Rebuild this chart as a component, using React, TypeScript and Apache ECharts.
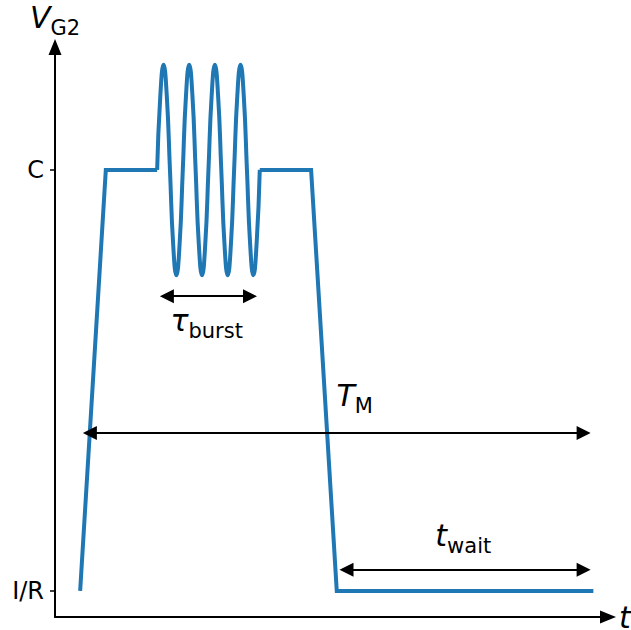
import React, { useEffect, useRef } from "react";
import * as echarts from "echarts";

// Piecewise envelope of the gate pulse (t in arbitrary units, V normalised: I/R = 0, C = 1)
const envelopeT: (number | null)[] = [0, 1, 3, null, 7, 9, 10, 20];
const envelopeV: (number | null)[] = [0, 1, 1, null, 1, 1, 0, 0];

// Burst section (4 oscillations between t = 3 and t = 7)
const burstT = [
  3, 3.125, 3.25, 3.375, 3.5, 3.625, 3.75, 3.875,
  4, 4.125, 4.25, 4.375, 4.5, 4.625, 4.75, 4.875,
  5, 5.125, 5.25, 5.375, 5.5, 5.625, 5.75, 5.875,
  6, 6.125, 6.25, 6.375, 6.5, 6.625, 6.75, 6.875,
  7,
];
const burstV = [
  1, 1.177, 1.25, 1.177, 1, 0.823, 0.75, 0.823,
  1, 1.177, 1.25, 1.177, 1, 0.823, 0.75, 0.823,
  1, 1.177, 1.25, 1.177, 1, 0.823, 0.75, 0.823,
  1, 1.177, 1.25, 1.177, 1, 0.823, 0.75, 0.823,
  1,
];

// Y tick labels
const yTickValues = [0, 1];
const yTickLabels = ["I/R", "C"];

// Double-headed arrows (start t, end t, level)
const arrowStart = [3.38, 0.38, 10.38];
const arrowEnd = [6.62, 19.62, 19.62];
const arrowLevel = [0.7, 0.375, 0.05];

// Annotation labels
const labelMain = ["τ", "T", "t"];
const labelSub = ["burst", "M", "wait"];
const labelT = [4.93, 10.7, 14.93];
const labelV = [0.647, 0.469, 0.137];

const FONT = "DejaVu Sans";
const BLUE = "#1f77b4";

export default function App() {
  const ref = useRef<HTMLDivElement>(null);
  useEffect(() => {
    if (!ref.current) return;
    const chart = echarts.init(ref.current, undefined, { renderer: "svg" });

    const rich = {
      m: { fontFamily: FONT, fontStyle: "italic", fontSize: 30, color: "#000", lineHeight: 34, verticalAlign: "bottom" },
      s: { fontFamily: FONT, fontSize: 21, color: "#000", lineHeight: 34, verticalAlign: "bottom", padding: [0, 0, -6, 0] },
    };

    const option: any = {
      animation: false,
      grid: { left: 55, right: 23, top: 47, bottom: 13, containLabel: false, outerBoundsMode: "none" },
      xAxis: {
        type: "value",
        min: -0.98,
        max: 20.57,
        splitLine: { show: false },
        axisTick: { show: false },
        axisLabel: { show: false },
        axisLine: {
          onZero: false,
          symbol: ["none", "triangle"],
          symbolSize: [13, 16],
          lineStyle: { color: "#000", width: 2 },
        },
        name: "t",
        nameLocation: "end",
        nameGap: 11,
        nameTextStyle: { fontFamily: FONT, fontStyle: "italic", fontSize: 30, color: "#000", verticalAlign: "middle", padding: [0, 0, 6, 0] },
      },
      yAxis: {
        type: "value",
        min: -0.062,
        max: 1.292,
        splitLine: { show: false },
        axisTick: {
          show: true,
          length: 5,
          customValues: yTickValues,
          lineStyle: { color: "#000", width: 1.5 },
        },
        axisLabel: {
          show: true,
          customValues: yTickValues,
          margin: 11,
          fontFamily: FONT,
          fontSize: 24,
          color: "#000",
          formatter: (v: number) => {
            const i = yTickValues.indexOf(v);
            return i >= 0 ? yTickLabels[i] : "";
          },
        },
        axisLine: {
          onZero: false,
          symbol: ["none", "triangle"],
          symbolSize: [13, 16],
          lineStyle: { color: "#000", width: 2 },
        },
        name: "{m|V}{s|G2}",
        nameLocation: "end",
        nameGap: 15,
        nameTextStyle: { rich, align: "center", verticalAlign: "bottom" },
      },
      series: [
        {
          type: "line",
          data: envelopeT.map((t, i) => (t === null ? ["-", "-"] : [t, envelopeV[i]])),
          showSymbol: false,
          symbol: "none",
          connectNulls: false,
          lineStyle: { color: BLUE, width: 4, cap: "butt", join: "miter" },
          silent: true,
        },
        {
          type: "line",
          data: burstT.map((t, i) => [t, burstV[i]]),
          smooth: 0.5,
          showSymbol: false,
          symbol: "none",
          lineStyle: { color: BLUE, width: 4 },
          silent: true,
          markLine: {
            silent: true,
            symbol: ["triangle", "triangle"],
            symbolSize: [14, 14],
            lineStyle: { color: "#000", width: 2, type: "solid" },
            label: { show: false },
            data: arrowStart.map((s, i) => [
              { coord: [s, arrowLevel[i]] },
              { coord: [arrowEnd[i], arrowLevel[i]] },
            ]),
          },
          markPoint: {
            silent: true,
            symbol: "circle",
            symbolSize: 0,
            itemStyle: { color: "transparent" },
            label: { show: true, position: "inside" },
            data: labelMain.map((m, i) => ({
              coord: [labelT[i], labelV[i]],
              label: {
                show: true,
                position: "inside",
                formatter: `{m|${m}}{s|${labelSub[i]}}`,
                rich,
              },
            })),
          },
        },
      ],
    };
    chart.setOption(option);
    return () => chart.dispose();
  }, []);
  return <div ref={ref} style={{ position: "fixed", left: 0, top: 0, width: 631, height: 630, background: "#fff" }} />;
}
